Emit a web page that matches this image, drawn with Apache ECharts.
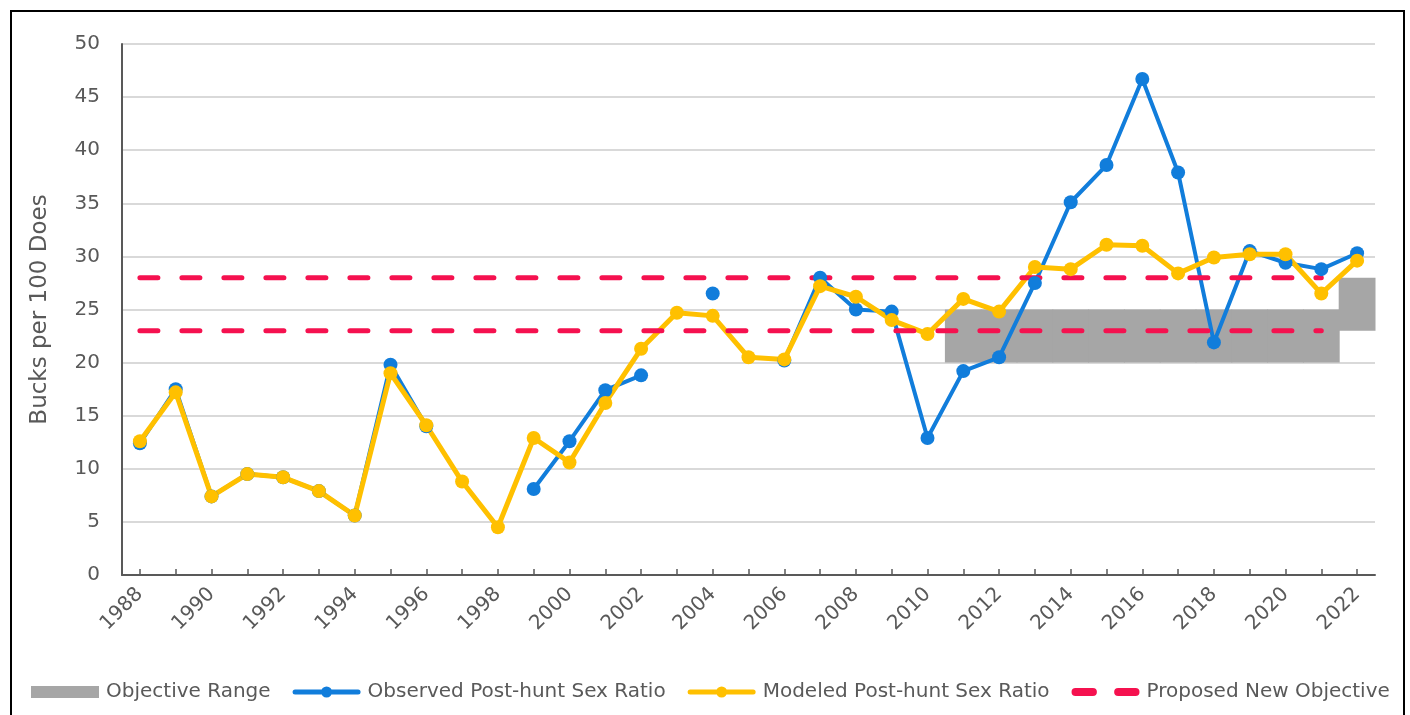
<!DOCTYPE html>
<html>
<head>
<meta charset="utf-8">
<script src="https://cdn.jsdelivr.net/npm/echarts@6/dist/echarts.min.js"></script>
<style>
  html, body { margin: 0; padding: 0; background: #fff; }
  #frame { position: absolute; left: 10px; top: 10px; width: 1395px; height: 720px; border: 2.5px solid #000; box-sizing: border-box; }
  #chart { position: absolute; left: 0; top: 0; width: 1410px; height: 715px; }
</style>
</head>
<body>
<div id="frame"></div>
<div id="chart"></div>
<script>
const years = ['1988','1989','1990','1991','1992','1993','1994','1995','1996','1997','1998','1999','2000','2001','2002','2003','2004','2005','2006','2007','2008','2009','2010','2011','2012','2013','2014','2015','2016','2017','2018','2019','2020','2021','2022'];

const observed = [12.4, 17.5, 7.4, 9.5, 9.2, 7.9, 5.6, 19.8, 14.0, null, null, 8.1, 12.6, 17.4, 18.8, null, 26.5, null, 20.2, 28.0, 25.0, 24.8, 12.9, 19.2, 20.5, 27.5, 35.1, 38.6, 46.7, 37.9, 21.9, 30.5, 29.4, 28.8, 30.3];

const modeled = [12.6, 17.2, 7.4, 9.5, 9.2, 7.9, 5.6, 19.0, 14.1, 8.8, 4.5, 12.9, 10.6, 16.2, 21.3, 24.7, 24.4, 20.5, 20.3, 27.2, 26.2, 24.0, 22.7, 26.0, 24.8, 29.0, 28.8, 31.1, 31.0, 28.4, 29.9, 30.2, 30.2, 26.5, 29.6];

const objectiveLow  = [null,null,null,null,null,null,null,null,null,null,null,null,null,null,null,null,null,null,null,null,null,null,null, 20,20,20,20,20,20,20,20,20,20,20, 23];
const objectiveHigh = [null,null,null,null,null,null,null,null,null,null,null,null,null,null,null,null,null,null,null,null,null,null,null, 25,25,25,25,25,25,25,25,25,25,25, 28];

const proposedLow  = [23,23,23,23,23,23,23,23,23,23,23,23,23,23,23,23,23,23,23,23,23,23,23,23,23,23,23,23,23,23,23,23,23,23,null];
const proposedHigh = [28,28,28,28,28,28,28,28,28,28,28,28,28,28,28,28,28,28,28,28,28,28,28,28,28,28,28,28,28,28,28,28,28,28,null];

const yTicks = { min: 0, max: 50, interval: 5 };

const FONT = 'DejaVu Sans';
const TXT = '#595959';
const BLUE = '#117ddb';
const YELLOW = '#ffc000';
const RED = '#f5114f';
const GREY = '#a6a6a6';

const objData = [];
objectiveHigh.forEach((h, i) => {
  if (h != null && objectiveLow[i] != null) objData.push([i, objectiveLow[i], h]);
});

const chart = echarts.init(document.getElementById('chart'), null, { renderer: 'canvas' });
const dashStyle = { color: RED, width: 5, type: [18, 24], cap: 'round' };

const lineIcon = 'path://M2.5,3.5h63a2.5,2.5 0 0 1 0,5h-63a2.5,2.5 0 0 1 0,-5z M34,0.5a5.5,5.5 0 1 1 0,11a5.5,5.5 0 1 1 0,-11z';
const dashIcon = 'path://M4,2h17a4,4 0 0 1 0,8h-17a4,4 0 0 1 0,-8z M46,2h17a4,4 0 0 1 0,8h-17a4,4 0 0 1 0,-8z';

chart.setOption({
  animation: false,
  backgroundColor: 'transparent',
  textStyle: { fontFamily: FONT },
  grid: { left: 122, right: 35, top: 44, bottom: 140, containLabel: false },
  legend: {
    left: 31, bottom: 13, padding: 0,
    data: [
      { name: 'Objective Range', icon: 'rect' },
      { name: 'Observed Post-hunt Sex Ratio', icon: lineIcon },
      { name: 'Modeled Post-hunt Sex Ratio', icon: lineIcon },
      { name: 'Proposed New Objective', icon: dashIcon }
    ],
    itemWidth: 68, itemHeight: 12, itemGap: 22,
    symbolKeepAspect: true,
    textStyle: { fontFamily: FONT, fontSize: 20, color: TXT, padding: [0, 0, 0, 2] }
  },
  xAxis: {
    type: 'category',
    data: years,
    boundaryGap: true,
    axisLine: { show: true, lineStyle: { color: '#595959', width: 2 } },
    axisTick: { show: true, alignWithLabel: true, interval: 0, inside: true, length: 6, lineStyle: { color: '#595959', width: 1.5 } },
    axisLabel: { interval: 1, rotate: 45, margin: 16, fontFamily: FONT, fontSize: 20, color: TXT },
    splitLine: { show: false }
  },
  yAxis: {
    type: 'value',
    min: yTicks.min, max: yTicks.max, interval: yTicks.interval,
    name: 'Bucks per 100 Does',
    nameLocation: 'middle',
    nameRotate: 90,
    nameGap: 70,
    nameTextStyle: { fontFamily: FONT, fontSize: 23, color: TXT },
    axisLine: { show: true, lineStyle: { color: '#595959', width: 2 } },
    axisTick: { show: false },
    axisLabel: { margin: 22, fontFamily: FONT, fontSize: 20, color: TXT },
    splitLine: { show: true, lineStyle: { color: '#d9d9d9', width: 2 } }
  },
  series: [
    {
      name: 'Objective Range', type: 'custom', data: objData,
      itemStyle: { color: GREY },
      encode: { x: 0, y: [1, 2] },
      renderItem: function (params, api) {
        const i = api.value(0);
        const lo = api.coord([i, api.value(1)]);
        const hi = api.coord([i, api.value(2)]);
        const bw = api.size([1, 0])[0];
        return {
          type: 'rect',
          shape: { x: lo[0] - bw / 2 - 0.5, y: hi[1], width: bw + 1, height: lo[1] - hi[1] },
          style: { fill: GREY }
        };
      },
      z: 1
    },
    {
      name: 'Observed Post-hunt Sex Ratio', type: 'line', data: observed,
      symbol: 'circle', symbolSize: 14, showSymbol: true, connectNulls: false,
      lineStyle: { color: BLUE, width: 4 }, itemStyle: { color: BLUE }
    },
    {
      name: 'Modeled Post-hunt Sex Ratio', type: 'line', data: modeled,
      symbol: 'circle', symbolSize: 14, showSymbol: true,
      lineStyle: { color: YELLOW, width: 5 }, itemStyle: { color: YELLOW }
    },
    {
      name: 'Proposed New Objective', type: 'line', data: proposedHigh,
      symbol: 'none', lineStyle: dashStyle, itemStyle: { color: RED }
    },
    {
      name: 'Proposed New Objective', type: 'line', data: proposedLow,
      symbol: 'none', lineStyle: dashStyle, itemStyle: { color: RED }
    }
  ]
});
</script>
</body>
</html>
